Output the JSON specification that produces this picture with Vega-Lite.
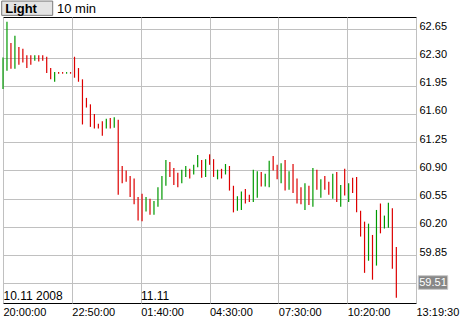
{
  "$schema": "https://vega.github.io/schema/vega-lite/v6.json",
  "width": 413,
  "height": 286,
  "autosize": {"type": "none"},
  "padding": {"left": 3, "top": 17, "right": 44, "bottom": 17},
  "background": "#ffffff",
  "config": {
    "view": {"stroke": "#000000", "strokeWidth": 1},
    "font": "Liberation Sans",
    "axis": {
      "labelOverlap": false,
      "labelBound": false,
      "labelFlush": false,
      "labelFont": "Liberation Sans",
      "labelFontSize": 11,
      "labelColor": "#000000",
      "grid": true,
      "gridColor": "#c0c0c0",
      "gridOpacity": 1,
      "gridWidth": 1,
      "domain": false,
      "ticks": false,
      "title": null,
      "tickCount": 30
    }
  },
  "datasets": {
    "bars": [
      {"i": 1, "hi": 62.30, "lo": 61.91, "d": "u"},
      {"i": 2, "hi": 62.745, "lo": 62.137, "d": "u"},
      {"i": 3, "hi": 62.48, "lo": 62.16, "d": "d"},
      {"i": 4, "hi": 62.57, "lo": 62.16, "d": "u"},
      {"i": 5, "hi": 62.43, "lo": 62.21, "d": "d"},
      {"i": 6, "hi": 62.41, "lo": 62.24, "d": "d"},
      {"i": 7, "hi": 62.33, "lo": 62.17, "d": "d"},
      {"i": 8, "hi": 62.33, "lo": 62.21, "d": "d"},
      {"i": 9, "hi": 62.33, "lo": 62.26, "d": "u"},
      {"i": 10, "hi": 62.33, "lo": 62.25, "d": "d"},
      {"i": 11, "hi": 62.33, "lo": 62.26, "d": "d"},
      {"i": 12, "hi": 62.31, "lo": 62.11, "d": "d"},
      {"i": 13, "hi": 62.17, "lo": 62.03, "d": "d"},
      {"i": 14, "hi": 62.12, "lo": 62.00, "d": "u"},
      {"i": 15, "hi": 62.12, "lo": 62.10, "d": "d"},
      {"i": 16, "hi": 62.12, "lo": 62.10, "d": "d"},
      {"i": 17, "hi": 62.12, "lo": 62.10, "d": "u"},
      {"i": 18, "hi": 62.12, "lo": 62.10, "d": "d"},
      {"i": 19, "hi": 62.31, "lo": 62.05, "d": "d"},
      {"i": 20, "hi": 62.17, "lo": 62.00, "d": "d"},
      {"i": 21, "hi": 62.03, "lo": 61.47, "d": "d"},
      {"i": 22, "hi": 61.80, "lo": 61.68, "d": "d"},
      {"i": 23, "hi": 61.72, "lo": 61.44, "d": "d"},
      {"i": 24, "hi": 61.60, "lo": 61.42, "d": "d"},
      {"i": 25, "hi": 61.48, "lo": 61.42, "d": "d"},
      {"i": 26, "hi": 61.51, "lo": 61.33, "d": "d"},
      {"i": 27, "hi": 61.54, "lo": 61.42, "d": "u"},
      {"i": 28, "hi": 61.55, "lo": 61.42, "d": "d"},
      {"i": 29, "hi": 61.56, "lo": 61.43, "d": "u"},
      {"i": 30, "hi": 61.53, "lo": 60.60, "d": "d"},
      {"i": 31, "hi": 60.955, "lo": 60.74, "d": "d"},
      {"i": 32, "hi": 60.90, "lo": 60.76, "d": "d"},
      {"i": 33, "hi": 60.83, "lo": 60.57, "d": "d"},
      {"i": 34, "hi": 60.80, "lo": 60.48, "d": "d"},
      {"i": 35, "hi": 60.57, "lo": 60.28, "d": "d"},
      {"i": 36, "hi": 60.61, "lo": 60.27, "d": "d"},
      {"i": 37, "hi": 60.57, "lo": 60.39, "d": "u"},
      {"i": 38, "hi": 60.55, "lo": 60.35, "d": "d"},
      {"i": 39, "hi": 60.52, "lo": 60.35, "d": "u"},
      {"i": 40, "hi": 60.69, "lo": 60.45, "d": "u"},
      {"i": 41, "hi": 60.83, "lo": 60.54, "d": "u"},
      {"i": 42, "hi": 61.03, "lo": 60.71, "d": "u"},
      {"i": 43, "hi": 61.005, "lo": 60.82, "d": "d"},
      {"i": 44, "hi": 60.93, "lo": 60.72, "d": "d"},
      {"i": 45, "hi": 60.87, "lo": 60.69, "d": "d"},
      {"i": 46, "hi": 60.91, "lo": 60.74, "d": "u"},
      {"i": 47, "hi": 60.955, "lo": 60.82, "d": "u"},
      {"i": 48, "hi": 60.92, "lo": 60.80, "d": "d"},
      {"i": 49, "hi": 60.97, "lo": 60.85, "d": "u"},
      {"i": 50, "hi": 61.09, "lo": 60.94, "d": "u"},
      {"i": 51, "hi": 61.03, "lo": 60.81, "d": "d"},
      {"i": 52, "hi": 61.04, "lo": 60.82, "d": "u"},
      {"i": 53, "hi": 61.10, "lo": 60.97, "d": "d"},
      {"i": 54, "hi": 61.04, "lo": 60.82, "d": "d"},
      {"i": 55, "hi": 60.91, "lo": 60.79, "d": "u"},
      {"i": 56, "hi": 60.92, "lo": 60.80, "d": "d"},
      {"i": 57, "hi": 60.98, "lo": 60.85, "d": "u"},
      {"i": 58, "hi": 60.955, "lo": 60.65, "d": "d"},
      {"i": 59, "hi": 60.71, "lo": 60.38, "d": "d"},
      {"i": 60, "hi": 60.58, "lo": 60.40, "d": "u"},
      {"i": 61, "hi": 60.64, "lo": 60.41, "d": "u"},
      {"i": 62, "hi": 60.67, "lo": 60.49, "d": "d"},
      {"i": 63, "hi": 60.60, "lo": 60.51, "d": "d"},
      {"i": 64, "hi": 60.91, "lo": 60.51, "d": "u"},
      {"i": 65, "hi": 60.89, "lo": 60.56, "d": "u"},
      {"i": 66, "hi": 60.88, "lo": 60.70, "d": "d"},
      {"i": 67, "hi": 60.86, "lo": 60.70, "d": "u"},
      {"i": 68, "hi": 61.02, "lo": 60.69, "d": "u"},
      {"i": 69, "hi": 61.08, "lo": 60.90, "d": "d"},
      {"i": 70, "hi": 60.97, "lo": 60.79, "d": "d"},
      {"i": 71, "hi": 60.99, "lo": 60.74, "d": "u"},
      {"i": 72, "hi": 61.03, "lo": 60.65, "d": "d"},
      {"i": 73, "hi": 60.89, "lo": 60.66, "d": "u"},
      {"i": 74, "hi": 60.98, "lo": 60.62, "d": "d"},
      {"i": 75, "hi": 60.80, "lo": 60.49, "d": "d"},
      {"i": 76, "hi": 60.69, "lo": 60.48, "d": "d"},
      {"i": 77, "hi": 60.74, "lo": 60.41, "d": "u"},
      {"i": 78, "hi": 60.71, "lo": 60.47, "d": "d"},
      {"i": 79, "hi": 60.93, "lo": 60.45, "d": "u"},
      {"i": 80, "hi": 60.91, "lo": 60.66, "d": "d"},
      {"i": 81, "hi": 60.79, "lo": 60.56, "d": "u"},
      {"i": 82, "hi": 60.83, "lo": 60.66, "d": "d"},
      {"i": 83, "hi": 60.76, "lo": 60.60, "d": "d"},
      {"i": 84, "hi": 60.86, "lo": 60.55, "d": "u"},
      {"i": 85, "hi": 60.88, "lo": 60.51, "d": "d"},
      {"i": 86, "hi": 60.72, "lo": 60.45, "d": "u"},
      {"i": 87, "hi": 60.92, "lo": 60.59, "d": "d"},
      {"i": 88, "hi": 60.74, "lo": 60.51, "d": "u"},
      {"i": 89, "hi": 60.81, "lo": 60.62, "d": "d"},
      {"i": 90, "hi": 60.82, "lo": 60.38, "d": "d"},
      {"i": 91, "hi": 60.40, "lo": 60.08, "d": "d"},
      {"i": 92, "hi": 60.265, "lo": 59.63, "d": "d"},
      {"i": 93, "hi": 60.24, "lo": 59.78, "d": "u"},
      {"i": 94, "hi": 60.10, "lo": 59.545, "d": "d"},
      {"i": 95, "hi": 60.41, "lo": 59.72, "d": "u"},
      {"i": 96, "hi": 60.49, "lo": 60.12, "d": "d"},
      {"i": 97, "hi": 60.34, "lo": 60.18, "d": "u"},
      {"i": 98, "hi": 60.50, "lo": 60.19, "d": "u"},
      {"i": 99, "hi": 60.43, "lo": 59.68, "d": "d"},
      {"i": 100, "hi": 59.95, "lo": 59.32, "d": "d"}
    ]
  },
  "layer": [
    {
      "data": {"name": "bars"},
      "mark": {"type": "rule", "strokeWidth": 1.2},
      "encoding": {
        "x": {
          "field": "i",
          "type": "quantitative",
          "scale": {"domain": [1, 104.95], "nice": false, "zero": false},
          "axis": {
            "orient": "bottom",
            "values": [1, 18.325, 35.65, 52.975, 70.3, 87.625, 104.95],
            "tickCount": 30,
            "labelExpr": "datum.value < 2 ? '20:00:00' : datum.value < 20 ? '22:50:00' : datum.value < 40 ? '01:40:00' : datum.value < 60 ? '04:30:00' : datum.value < 80 ? '07:30:00' : datum.value < 100 ? '10:20:00' : '13:19:30'",
            "labelAlign": "left",
            "labelBaseline": "alphabetic",
            "labelPadding": 12,
            "labelOverlap": false
          }
        },
        "y": {
          "field": "hi",
          "type": "quantitative",
          "scale": {"domain": [59.256, 62.803], "nice": false, "zero": false},
          "axis": {
            "orient": "right",
            "values": [59.5, 59.85, 60.2, 60.55, 60.9, 61.25, 61.6, 61.95, 62.3, 62.65],
            "tickCount": 30,
            "labelExpr": "datum.value < 59.6 ? '' : format(datum.value, '.2f')",
            "labelAlign": "left",
            "labelBaseline": "alphabetic",
            "labelPadding": 3,
            "labelOverlap": false
          }
        },
        "y2": {"field": "lo"},
        "color": {
          "field": "d",
          "type": "nominal",
          "scale": {"domain": ["u", "d"], "range": ["#009900", "#dd0000"]},
          "legend": null
        }
      }
    },
    {
      "data": {"values": [{}]},
      "mark": {"type": "point", "shape": "M-1,-0.28L1,-0.28L1,0.28L-1,0.28Z", "size": 2601, "filled": true, "fill": "#e4e4e4", "stroke": "#7a7a7a", "strokeWidth": 1, "opacity": 1},
      "encoding": {
        "x": {"datum": 7.09, "type": "quantitative"},
        "y": {"datum": 62.912, "type": "quantitative"}
      }
    },
    {
      "data": {"values": [{}]},
      "mark": {"type": "text", "text": "Light", "font": "Liberation Sans", "fontSize": 13, "fontWeight": "bold", "align": "left", "baseline": "alphabetic", "color": "#000000"},
      "encoding": {
        "x": {"datum": 1.55, "type": "quantitative"},
        "y": {"datum": 62.856, "type": "quantitative"}
      }
    },
    {
      "data": {"values": [{}]},
      "mark": {"type": "text", "text": "10 min", "font": "Liberation Sans", "fontSize": 13, "align": "left", "baseline": "alphabetic", "color": "#000000"},
      "encoding": {
        "x": {"datum": 14.59, "type": "quantitative"},
        "y": {"datum": 62.856, "type": "quantitative"}
      }
    },
    {
      "data": {"values": [{}]},
      "mark": {"type": "text", "text": "10.11 2008", "font": "Liberation Sans", "fontSize": 12, "align": "left", "baseline": "alphabetic", "color": "#000000"},
      "encoding": {
        "x": {"datum": 1.13, "type": "quantitative"},
        "y": {"datum": 59.293, "type": "quantitative"}
      }
    },
    {
      "data": {"values": [{}]},
      "mark": {"type": "text", "text": "11.11", "font": "Liberation Sans", "fontSize": 12, "align": "left", "baseline": "alphabetic", "color": "#000000"},
      "encoding": {
        "x": {"datum": 35.73, "type": "quantitative"},
        "y": {"datum": 59.293, "type": "quantitative"}
      }
    },
    {
      "data": {"values": [{}]},
      "mark": {"type": "point", "shape": "M-1,-0.463L1,-0.463L1,0.463L-1,0.463Z", "size": 864, "filled": true, "fill": "#878787", "stroke": "#c8c8c8", "strokeWidth": 1, "opacity": 1},
      "encoding": {
        "x": {"datum": 109.23, "type": "quantitative"},
        "y": {"datum": 59.51, "type": "quantitative"}
      }
    },
    {
      "data": {"values": [{}]},
      "mark": {"type": "text", "text": "59.51", "font": "Liberation Sans", "fontSize": 11, "align": "center", "baseline": "middle", "color": "#ffffff"},
      "encoding": {
        "x": {"datum": 109.23, "type": "quantitative"},
        "y": {"datum": 59.51, "type": "quantitative"}
      }
    }
  ]
}
